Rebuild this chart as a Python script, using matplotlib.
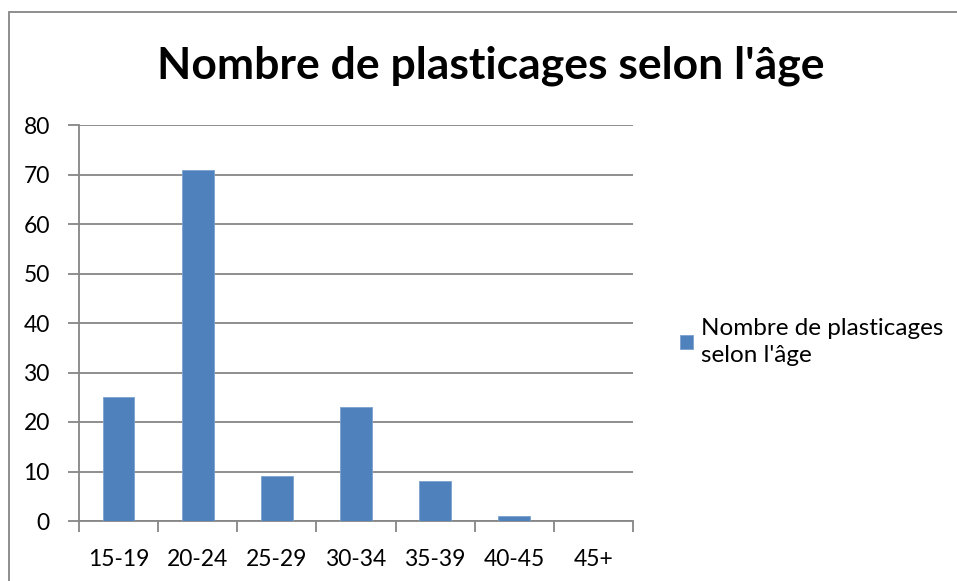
import matplotlib.pyplot as plt
from matplotlib.patches import Rectangle

categories = ['15-19', '20-24', '25-29', '30-34', '35-39', '40-45', '45+']
values = [25, 71, 9, 23, 8, 1, 0]
yticks = [0, 10, 20, 30, 40, 50, 60, 70, 80]
title = "Nombre de plasticages selon l'âge"
series_name = "Nombre de plasticages\nselon l'âge"

bar_color = '#4F81BD'
grid_color = '#868686'
plt.rcParams['font.family'] = ['Lato', 'DejaVu Sans']

fig = plt.figure(figsize=(9.57, 5.81), dpi=100, facecolor='white')

# outer chart frame (runs off right and bottom like the screenshot)
fig.patches.append(Rectangle((9 / 957, -0.05), 1.0, 1 - 12 / 581 + 0.05,
                             transform=fig.transFigure, fill=False,
                             edgecolor=grid_color, linewidth=1.3))

ax = fig.add_axes([79 / 957, 1 - 521 / 581, (633 - 79) / 957, (521 - 125) / 581])
x = range(len(categories))
ax.bar(x, values, width=0.4, color=bar_color, edgecolor='#7DA1CF', linewidth=0.6,
       zorder=3, label=series_name)

ax.set_xlim(-0.5, len(categories) - 0.5)
ax.set_ylim(0, 80)
ax.set_yticks(yticks)
ax.set_xticks([i - 0.5 for i in range(len(categories) + 1)])
ax.set_xticklabels([])
ax.set_xticks(list(x), minor=True)
ax.set_xticklabels(categories, minor=True)
ax.tick_params(axis='x', which='major', length=8, color=grid_color, width=1.3, direction='out')
ax.tick_params(axis='x', which='minor', length=0, labelsize=16.5, pad=20)
ax.tick_params(axis='y', length=8, color=grid_color, width=1.3, labelsize=16.5, pad=13)
ax.grid(axis='y', color=grid_color, linewidth=1.3, zorder=0)

for side in ['top', 'right']:
    ax.spines[side].set_visible(False)
for side in ['left', 'bottom']:
    ax.spines[side].set_color(grid_color)
    ax.spines[side].set_linewidth(1.3)

fig.text(491 / 957, 1 - 66 / 581, title, ha='center', va='center',
         fontsize=32, fontweight='bold')

leg = ax.legend(loc='center left', bbox_to_anchor=(680 / 957, 1 - 342 / 581),
                bbox_transform=fig.transFigure, frameon=False, fontsize=17.5,
                handlelength=0.55, handleheight=0.55, handletextpad=0.3,
                borderpad=0, borderaxespad=0)
leg.get_texts()[0].set_linespacing(1.3)

fig.savefig('out.png', dpi=100, facecolor='white')
